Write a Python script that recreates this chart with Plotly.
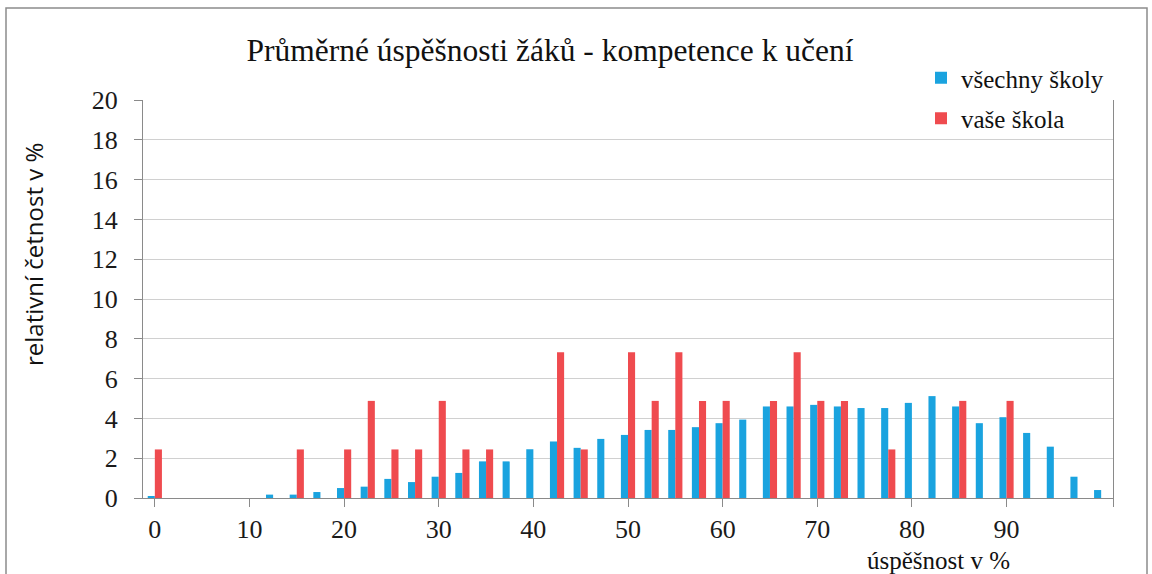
import plotly.graph_objects as go

# category scores (% success), 41 levels
skore = [0, 2.5, 5, 7.5, 10, 12.5, 15, 17.5, 20, 22.5,
         25, 27.5, 30, 32.5, 35, 37.5, 40, 42.5, 45, 47.5,
         50, 52.5, 55, 57.5, 60, 62.5, 65, 67.5, 70, 72.5,
         75, 77.5, 80, 82.5, 85, 87.5, 90, 92.5, 95, 97.5, 100]

vsechny_skoly = [0.1, 0, 0, 0, 0, 0.17, 0.17, 0.3, 0.5, 0.57,
                 0.96, 0.8, 1.07, 1.26, 1.84, 1.84, 2.45, 2.84, 2.52, 2.97,
                 3.17, 3.42, 3.42, 3.56, 3.76, 3.94, 4.6, 4.6, 4.68, 4.6,
                 4.52, 4.52, 4.78, 5.12, 4.6, 3.76, 4.06, 3.27, 2.58, 1.07, 0.4]

vase_skola = [2.44, 0, 0, 0, 0, 0, 2.44, 0, 2.44, 4.88,
              2.44, 2.44, 4.88, 2.44, 2.44, 0, 0, 7.32, 2.44, 0,
              7.32, 4.88, 7.32, 4.88, 4.88, 0, 4.88, 7.32, 4.88, 4.88,
              0, 2.44, 0, 0, 4.88, 0, 4.88, 0, 0, 0, 0]

x_ticks = [0, 10, 20, 30, 40, 50, 60, 70, 80, 90]
y_ticks = [0, 2, 4, 6, 8, 10, 12, 14, 16, 18, 20]

title_text = "Průměrné úspěšnosti žáků - kompetence k učení"
x_title = "úspěšnost v %"
y_title = "relativní četnost v %"

SERIF = "Liberation Serif"
GRAY = "#8a8a8a"

W, H = 1152, 574
PL, PR, PT, PB = 143, 1113, 100, 498   # plot area in pixels
PW, PHt = PR - PL, PB - PT


def px(xp):
    return (xp - PL) / PW


def py(yp):
    return (PB - yp) / PHt


fig = go.Figure()
fig.add_trace(go.Bar(x=skore, y=vsechny_skoly, name="všechny školy",
                     marker=dict(color="#1AA3DF", line=dict(width=0)),
                     legendgroup="a"))
fig.add_trace(go.Bar(x=skore, y=vase_skola, name="vaše škola",
                     marker=dict(color="#EF4B4F", line=dict(width=0)),
                     legendgroup="b"))

fig.update_layout(
    width=W, height=H,
    margin=dict(l=PL, r=W - PR, t=PT, b=H - PB),
    paper_bgcolor="white", plot_bgcolor="white",
    barmode="group", bargap=0.4, bargroupgap=0,
    font=dict(family=SERIF, size=26, color="#1a1a1a"),
    title=dict(text=title_text, x=550 / W, xanchor="center",
               y=1 - 50 / H, yanchor="middle", yref="container",
               font=dict(family=SERIF, size=31.5, color="#111")),
    showlegend=True,
    legend=dict(x=px(921), xanchor="left", y=py(55), yanchor="top",
                bgcolor="rgba(0,0,0,0)", tracegroupgap=5,
                font=dict(family=SERIF, size=25, color="#111")),
    xaxis=dict(range=[-1.25, 101.25], tickmode="array",
               tickvals=x_ticks + [101.25],
               ticktext=[str(v) for v in x_ticks] + [""],
               ticks="outside", ticklen=8, tickcolor=GRAY,
               showgrid=False, showline=True, linecolor=GRAY, linewidth=1,
               zeroline=False, ticklabelstandoff=0,
               tickfont=dict(family=SERIF, size=26, color="#1a1a1a")),
    yaxis=dict(range=[0, 20], tickmode="array", tickvals=y_ticks,
               ticks="outside", ticklen=8, tickcolor=GRAY,
               showgrid=True, gridcolor="#d0d0d0", gridwidth=1,
               showline=True, linecolor=GRAY, linewidth=1, mirror=True,
               zeroline=False, ticklabelstandoff=11,
               tickfont=dict(family=SERIF, size=26, color="#1a1a1a")),
)

fig.add_annotation(text=y_title, xref="paper", yref="paper",
                   x=px(33), y=py(255),
                   xanchor="center", yanchor="middle", textangle=-90,
                   showarrow=False,
                   font=dict(family="Open Sans", size=24, color="#111"))
fig.add_annotation(text=x_title, xref="paper", yref="paper",
                   x=px(938), y=py(560),
                   xanchor="center", yanchor="middle", showarrow=False,
                   font=dict(family=SERIF, size=25, color="#111"))

# outer frame of the chart
fig.add_shape(type="rect", xref="paper", yref="paper",
              x0=px(6), x1=px(1147), y0=py(600), y1=py(8),
              line=dict(color="#8c8c8c", width=1.5), fillcolor="rgba(0,0,0,0)",
              layer="below")

fig.write_html("out.html",
               config={"displayModeBar": False},
               post_script="document.body.style.margin='0';"
                           "document.body.style.overflow='hidden';")
